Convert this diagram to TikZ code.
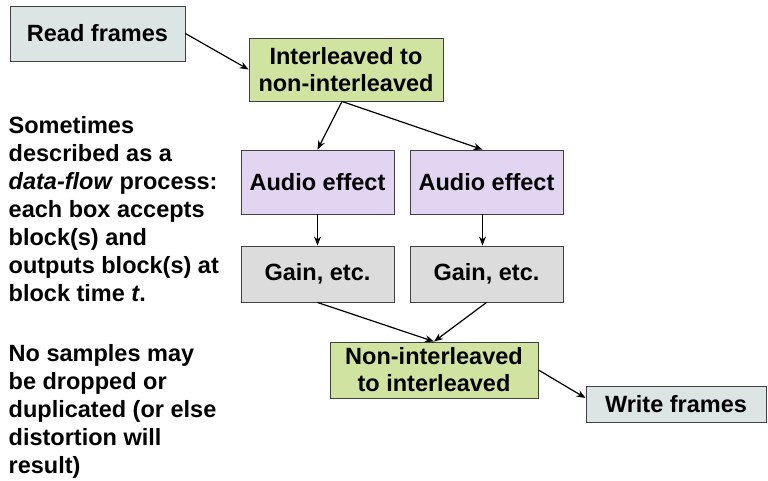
\documentclass[tikz,border=0pt]{standalone}
\usepackage{fontspec}
\setmainfont{Liberation Sans}
\usetikzlibrary{arrows.meta}
\definecolor{rwfill}{HTML}{DDE4E4}
\definecolor{convfill}{HTML}{D0E3A0}
\definecolor{fxfill}{HTML}{E2D5F2}
\definecolor{gainfill}{HTML}{DCDCDC}
\definecolor{edge}{HTML}{404040}
\tikzset{
  box/.style={draw=edge, line width=0.9pt, inner sep=0pt, align=center,
    font=\fontsize{23.5}{27}\selectfont\bfseries},
  conn/.style={line width=1.2pt, -{Stealth[length=9pt,width=7pt]}},
  note/.style={inner sep=0pt, anchor=north west, align=left,
    font=\fontsize{23.5}{28}\selectfont\bfseries}
}
\begin{document}
\begin{tikzpicture}[x=1pt,y=-1pt]
\useasboundingbox (0,0) rectangle (768,480);
\node[box, fill=rwfill, minimum width=175pt, minimum height=55pt] (rf) at (97.5,33.5) {Read frames};
\node[box, fill=convfill, minimum width=194pt, minimum height=63pt] (il) at (346,69.5) {Interleaved to\\non-interleaved};
\node[box, fill=fxfill, minimum width=153pt, minimum height=64pt] (ae1) at (317.5,182) {Audio effect};
\node[box, fill=fxfill, minimum width=153pt, minimum height=64pt] (ae2) at (486.5,182) {Audio effect};
\node[box, fill=gainfill, minimum width=153pt, minimum height=56pt] (g1) at (317.5,274) {Gain, etc.};
\node[box, fill=gainfill, minimum width=153pt, minimum height=56pt] (g2) at (486.5,274) {Gain, etc.};
\node[box, fill=convfill, minimum width=208pt, minimum height=56pt] (ni) at (434,370) {Non-interleaved\\to interleaved};
\node[box, fill=rwfill, minimum width=180pt, minimum height=36pt] (wf) at (676,404) {Write frames};
\node[note] (n1) at (8.5,116.5) {Sometimes\\described as a\\\textit{data-flow} process:\\each box accepts\\block(s) and\\outputs block(s) at\\block time \textit{t}.};
\node[note] (n2) at (8.5,344.5) {No samples may\\be dropped or\\duplicated (or else\\distortion will\\result)};
\draw[conn] (rf.east) -- (il.west);
\draw[conn] ([xshift=-4pt]il.south) -- (ae1.north);
\draw[conn] ([xshift=-4pt]il.south) -- ([xshift=-4pt]ae2.north);
\draw[conn] (ae1.south) -- (g1.north);
\draw[conn] ([xshift=-4pt]ae2.south) -- ([xshift=-4pt]g2.north);
\draw[conn] (g1.south) -- (ni.north);
\draw[conn] (g2.south) -- (ni.north);
\draw[conn] (ni.east) -- ([yshift=6pt]wf.west);
\end{tikzpicture}
\end{document}
